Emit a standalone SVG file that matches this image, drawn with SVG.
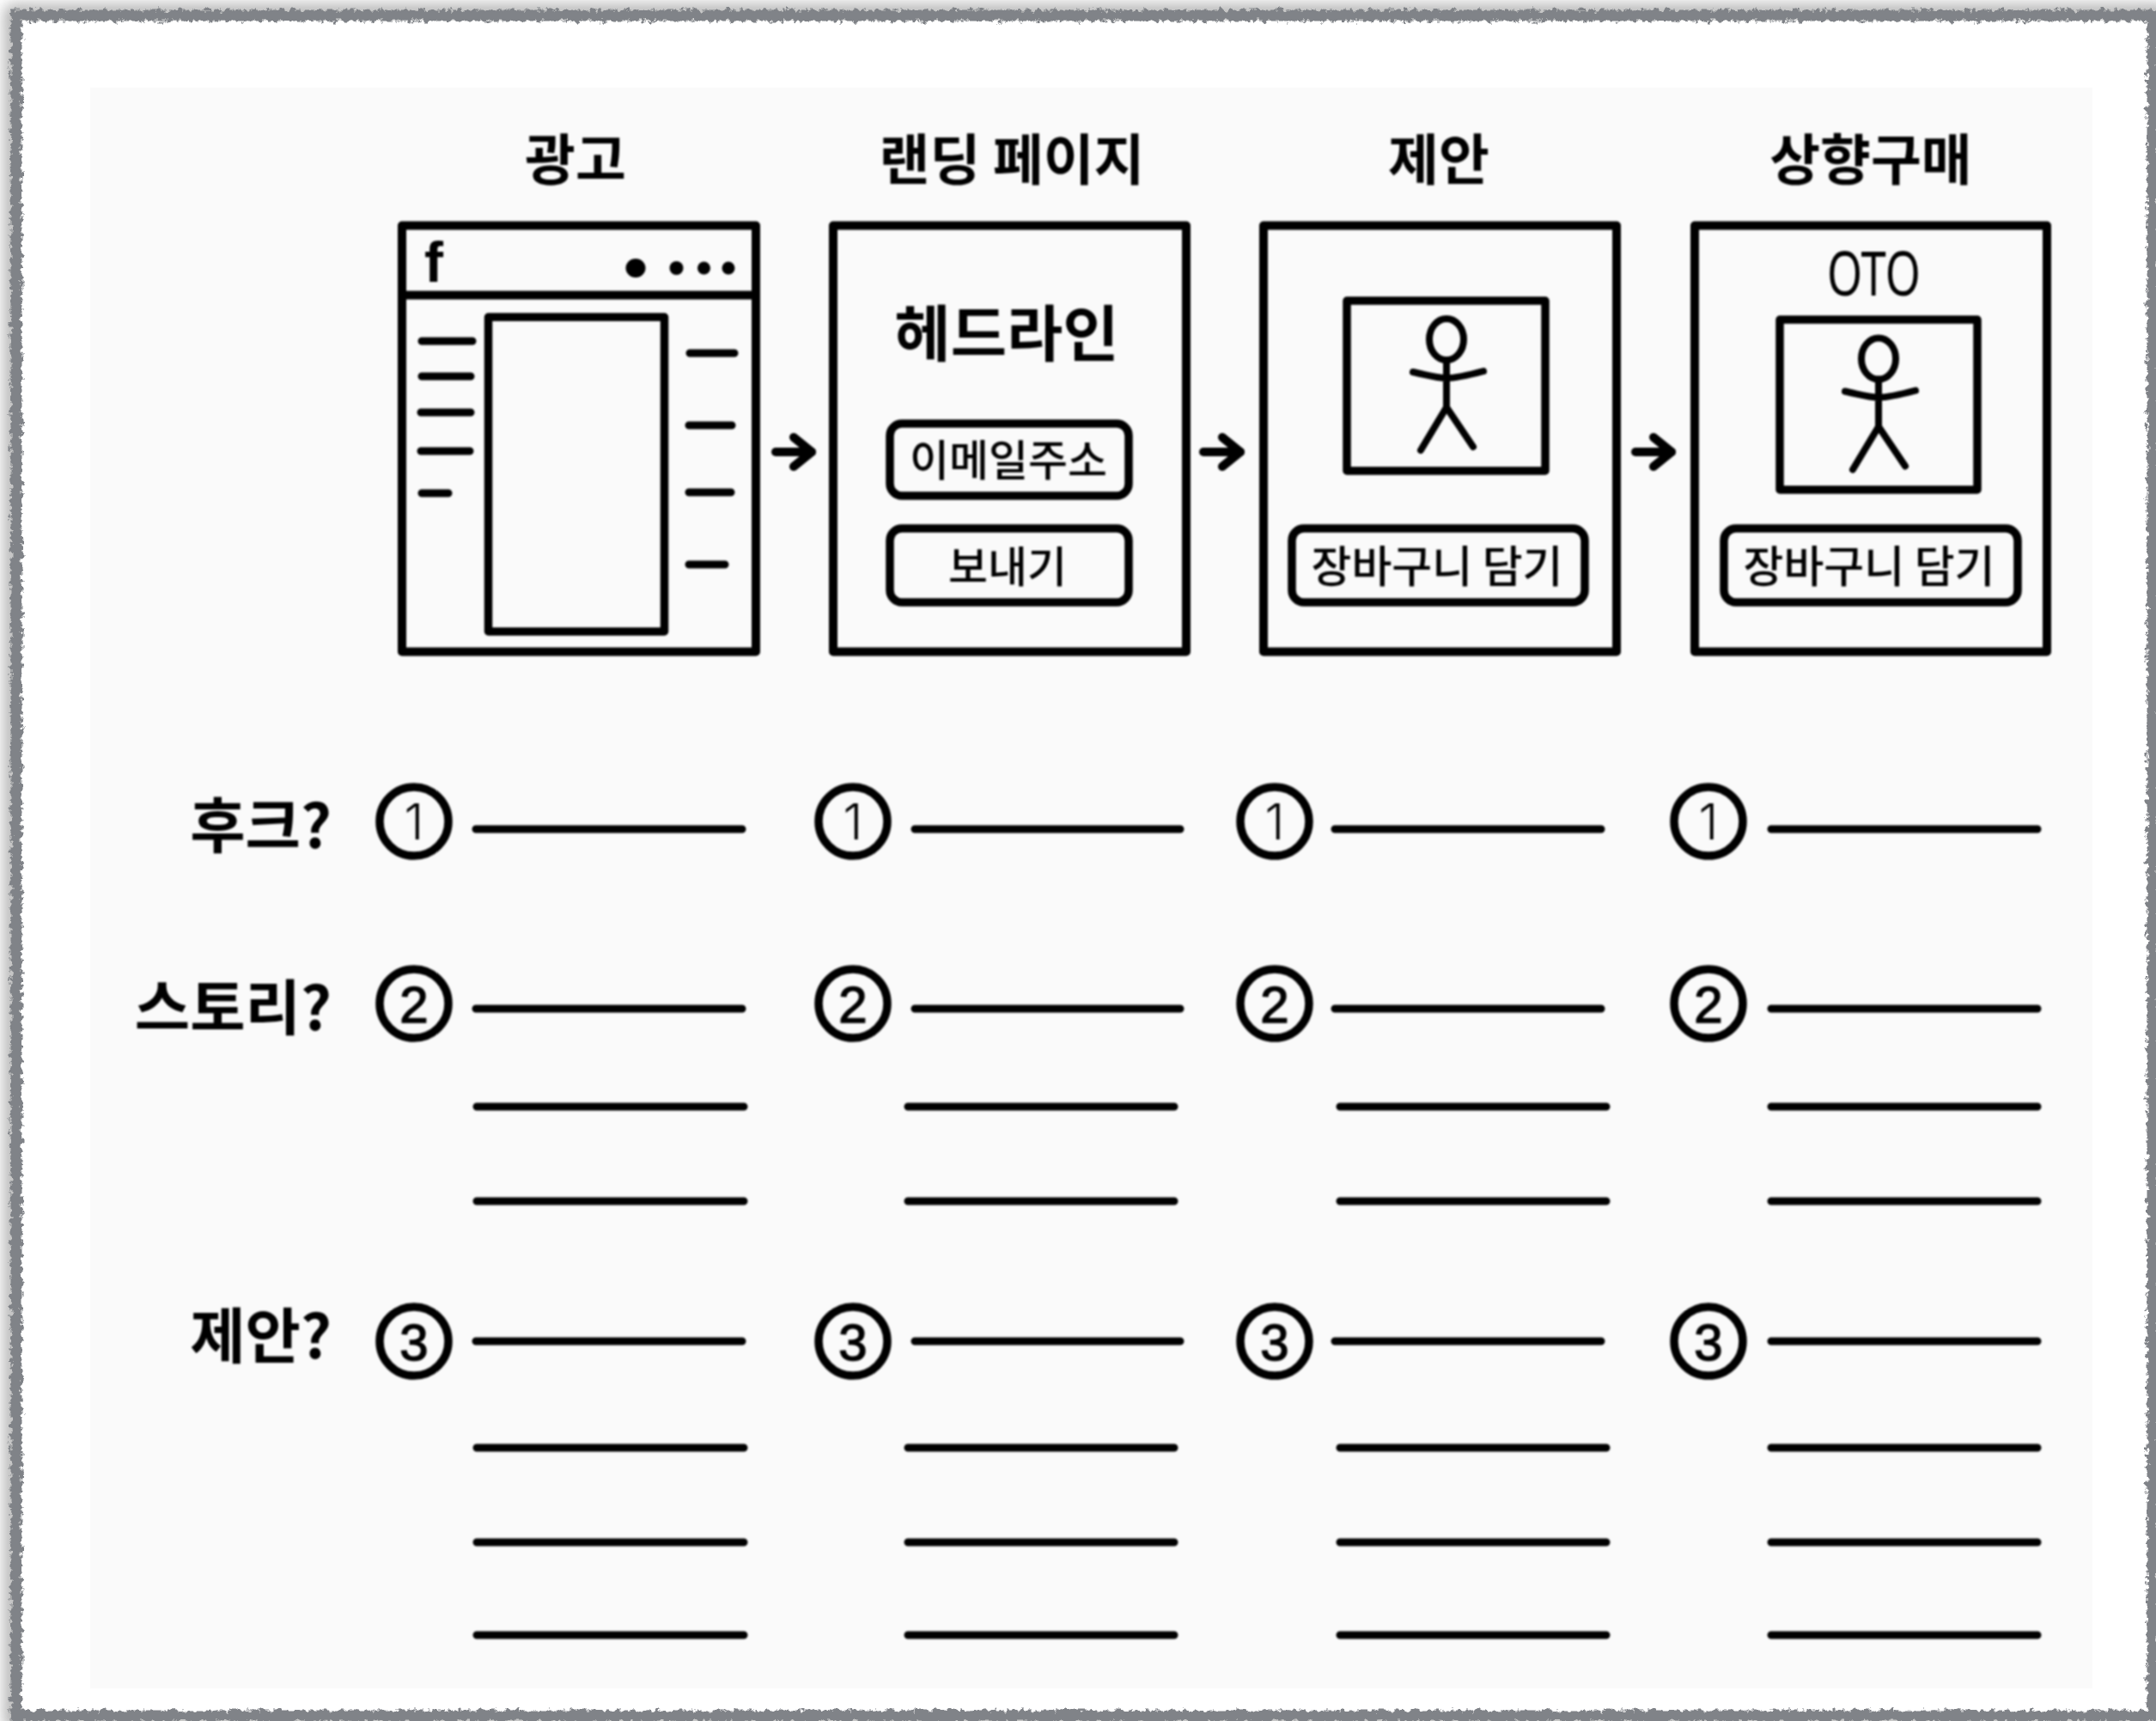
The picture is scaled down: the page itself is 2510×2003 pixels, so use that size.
<svg xmlns="http://www.w3.org/2000/svg" width="2510" height="2003" viewBox="0 0 2510 2003">
<style>
text{font-family:"Noto Sans CJK KR","Noto Sans",sans-serif;fill:#050505;text-anchor:middle}
.title{font-size:64px;font-weight:700}
.label{font-size:70px;font-weight:700;text-anchor:end}
.btn{font-size:50px;font-weight:500}
.btn2{font-size:51px;font-weight:500}
.dig{font-family:"Liberation Sans",sans-serif;font-size:60px;stroke:#050505;stroke-width:1.500}
.one{font-family:"Inter",sans-serif;font-size:58px;font-weight:300;stroke:none}
.box,.in,.pill,.c,.fig{fill:none;stroke:#050505;stroke-width:10}
.box,.in{stroke-linejoin:round}
.in,.pill,.c{stroke-width:9.500}
.fig{stroke-width:8;stroke-linecap:round;stroke-linejoin:round}
.l{stroke:#050505;stroke-width:9;stroke-linecap:round;fill:none}
.a{stroke:#050505;stroke-width:10;stroke-linecap:round;fill:none;marker-end:url(#ah)}
</style>
<defs>
<marker id="ah" viewBox="-28 -24 34 48" refX="0" refY="0" markerUnits="userSpaceOnUse" markerWidth="34" markerHeight="48" orient="auto"><path d="M-21,-17 L0,0 L-21,17" fill="none" stroke="#050505" stroke-width="10" stroke-linecap="round" stroke-linejoin="round"/></marker>
<filter id="rough" x="-2%" y="-2%" width="104%" height="104%"><feTurbulence type="fractalNoise" baseFrequency="0.16" numOctaves="4" seed="4"/><feDisplacementMap in="SourceGraphic" scale="11"/></filter>
<filter id="soft" x="-5%" y="-5%" width="110%" height="110%"><feGaussianBlur stdDeviation="9"/></filter>
<filter id="sh" x="-1%" y="-1%" width="102%" height="102%"><feGaussianBlur stdDeviation="0.8"/></filter>
<g id="s"><ellipse class="fig" cx="1684" cy="395" rx="20" ry="24"/><path class="fig" d="M1684,419V474M1684,474L1654,524M1684,474L1715,520M1645,433C1660,436 1672,440 1684,440C1697,440 1712,436 1727,432"/></g>
</defs>
<rect id="page" width="2510" height="2003" fill="#fff"/>
<rect id="shadow" x="14" y="14" width="2500" height="1990" fill="none" stroke="#9a9a9a" stroke-width="14" filter="url(#soft)"/>
<rect id="inner-page" x="24" y="24" width="2478" height="1968" fill="#fff"/>
<rect id="panel" x="105" y="102" width="2331" height="1863" fill="#fafafa"/>
<rect id="frame" x="19" y="18" width="2487" height="1979" fill="none" stroke="#808388" stroke-width="13" filter="url(#rough)"/>
<g id="art" filter="url(#sh)">
<g id="connectors">
<line class="a" x1="903" y1="526" x2="945" y2="526"/>
<line class="a" x1="1401" y1="526" x2="1444" y2="526"/>
<line class="a" x1="1904" y1="526" x2="1946" y2="526"/>
</g>
<g id="ad">
<text class="title" x="670" y="209">광고</text>
<rect class="box" x="468" y="262.500" width="412" height="496"/>
<line class="box" x1="468" y1="343.500" x2="880" y2="343.500"/>
<text x="505" y="328" style="font-family:'Liberation Sans',sans-serif;font-size:66px;font-weight:700">f</text>
<ellipse cx="740" cy="312" rx="11.500" ry="11"/><circle cx="787.500" cy="312" r="8"/><circle cx="819.500" cy="312" r="7.500"/><circle cx="848" cy="312" r="7.500"/>
<rect class="in" x="568.500" y="369" width="205" height="366"/>
<path class="l" d="M491,397H550M491,438H548M490,480H548M490,525H547M491,574H522M803,411H855M802,495H852M802,573H851M802,657H844"/>
</g>
<g id="landing">
<text class="title" x="1178" y="209">랜딩 페이지</text>
<rect class="box" x="970" y="262.500" width="411" height="496"/>
<text x="1172" y="414" style="font-size:71px;font-weight:700">헤드라인</text>
<rect class="pill" x="1036" y="493" width="278" height="84" rx="14"/>
<text class="btn" x="1174" y="554">이메일주소</text>
<rect class="pill" x="1036" y="615" width="278" height="86" rx="14"/>
<text class="btn" x="1173" y="678">보내기</text>
</g>
<g id="offer">
<text class="title" x="1675" y="209">제안</text>
<rect class="box" x="1471" y="262.500" width="411" height="496"/>
<rect class="in" x="1568" y="350" width="231" height="198"/>
<use href="#s"/>
<rect class="pill" x="1504" y="615" width="341" height="86" rx="14"/>
<text class="btn2" x="1673" y="678">장바구니 담기</text>
</g>
<g id="upsell">
<text class="title" x="2178" y="209">상향구매</text>
<rect class="box" x="1973" y="262.500" width="410" height="496"/>
<text x="2181.500" y="344" textLength="109" lengthAdjust="spacingAndGlyphs" style="font-family:'Noto Sans',sans-serif;font-size:72px;font-weight:400">OTO</text>
<rect class="in" x="2072" y="372" width="230" height="198"/>
<use href="#s" x="503" y="22.500"/>
<rect class="pill" x="2007" y="615" width="342" height="86" rx="14"/>
<text class="btn2" x="2176" y="678">장바구니 담기</text>
</g>
<g id="row-labels">
<text class="label" x="386" y="987">후크?</text>
<text class="label" x="386" y="1199">스토리?</text>
<text class="label" x="386" y="1581">제안?</text>
</g>
<g id="col-1">
<circle class="c" cx="482" cy="956" r="40"/><circle class="c" cx="482" cy="1168" r="40"/><circle class="c" cx="482" cy="1561" r="40"/>
<text class="dig one" x="482" y="977">1</text><text class="dig" x="482" y="1190">2</text><text class="dig" x="482" y="1583">3</text>
<path class="l" d="M554,965H864M554,1174H864M555,1288H866M555,1398H866M554,1561H864M555,1685H866M555,1795H866M555,1903H866"/>
</g>
<g id="col-2">
<circle class="c" cx="993" cy="956" r="40"/><circle class="c" cx="993" cy="1168" r="40"/><circle class="c" cx="993" cy="1561" r="40"/>
<text class="dig one" x="993" y="977">1</text><text class="dig" x="993" y="1190">2</text><text class="dig" x="993" y="1583">3</text>
<path class="l" d="M1065,965H1374M1065,1174H1374M1057,1288H1367M1057,1398H1367M1065,1561H1374M1057,1685H1367M1057,1795H1367M1057,1903H1367"/>
</g>
<g id="col-3">
<circle class="c" cx="1484" cy="956" r="40"/><circle class="c" cx="1484" cy="1168" r="40"/><circle class="c" cx="1484" cy="1561" r="40"/>
<text class="dig one" x="1484" y="977">1</text><text class="dig" x="1484" y="1190">2</text><text class="dig" x="1484" y="1583">3</text>
<path class="l" d="M1554,965H1864M1554,1174H1864M1560,1288H1870M1560,1398H1870M1554,1561H1864M1560,1685H1870M1560,1795H1870M1560,1903H1870"/>
</g>
<g id="col-4">
<circle class="c" cx="1989" cy="956" r="40"/><circle class="c" cx="1989" cy="1168" r="40"/><circle class="c" cx="1989" cy="1561" r="40"/>
<text class="dig one" x="1989" y="977">1</text><text class="dig" x="1989" y="1190">2</text><text class="dig" x="1989" y="1583">3</text>
<path class="l" d="M2062,965H2372M2062,1174H2372M2062,1288H2372M2062,1398H2372M2062,1561H2372M2062,1685H2372M2062,1795H2372M2062,1903H2372"/>
</g>
</g>
</svg>
